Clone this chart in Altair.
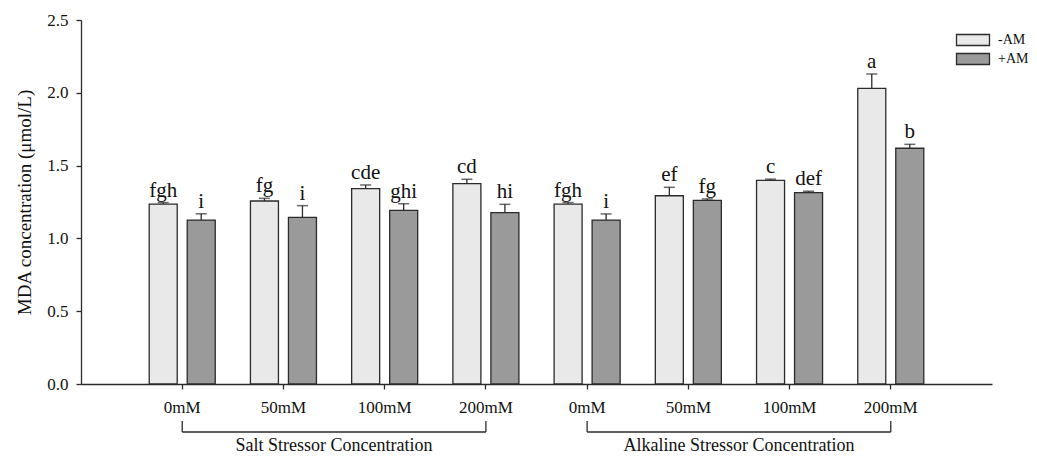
import altair as alt
import pandas as pd

# ---- data ----
groups = ["Salt 0mM", "Salt 50mM", "Salt 100mM", "Salt 200mM",
          "Alkaline 0mM", "Alkaline 50mM", "Alkaline 100mM", "Alkaline 200mM"]
treatments = ["-AM", "+AM"]
minus_am = [1.236, 1.257, 1.342, 1.376, 1.236, 1.293, 1.399, 2.031]
minus_err = [0.010, 0.018, 0.025, 0.030, 0.010, 0.058, 0.008, 0.098]
minus_letters = ["fgh", "fg", "cde", "cd", "fgh", "ef", "c", "a"]
plus_am = [1.126, 1.145, 1.193, 1.177, 1.126, 1.261, 1.314, 1.619]
plus_err = [0.043, 0.080, 0.045, 0.057, 0.042, 0.010, 0.010, 0.027]
plus_letters = ["i", "i", "ghi", "hi", "i", "fg", "def", "b"]
y_ticks = [0.0, 0.5, 1.0, 1.5, 2.0, 2.5]

stressor_titles = ["Salt Stressor Concentration", "Alkaline Stressor Concentration"]
bracket_start = ["Salt 0mM", "Alkaline 0mM"]
bracket_end = ["Salt 200mM", "Alkaline 200mM"]
bracket_mid = ["Salt 50mM", "Alkaline 50mM"]

FONT = "Liberation Serif"
INK = "#2b2b2b"

rows = []
for i, g in enumerate(groups):
    rows.append({"group": g, "treatment": "-AM", "mean": minus_am[i],
                 "err": minus_err[i], "letter": minus_letters[i]})
    rows.append({"group": g, "treatment": "+AM", "mean": plus_am[i],
                 "err": plus_err[i], "letter": plus_letters[i]})
df = pd.DataFrame(rows)
df["upper"] = df["mean"] + df["err"]

x_scale = alt.Scale(domain=groups, paddingInner=0, paddingOuter=0.5)
off_scale = alt.Scale(domain=treatments, paddingInner=0.263, paddingOuter=0.463)
y_scale = alt.Scale(domain=[0, 2.5], nice=False)

x_axis = alt.Axis(title=None, labelExpr="split(datum.label, ' ')[1]",
                  labelAngle=0, labelFontSize=17, labelPadding=10,
                  domain=True, ticks=True, tickSize=5,
                  domainWidth=1.3, tickWidth=1.3)
y_axis = alt.Axis(title="MDA concentration (\u03bcmol/L)", values=y_ticks,
                  format=".1f", labelFontSize=17, titleFontSize=19,
                  titleFontWeight="normal", labelPadding=8, titlePadding=12,
                  domain=True, ticks=True, tickSize=5,
                  domainWidth=1.3, tickWidth=1.3)


def xenc(**kw):
    return alt.X("group:N", scale=x_scale, sort=groups, axis=x_axis, **kw)


def yenc(field):
    return alt.Y(field, scale=y_scale, axis=y_axis)


xoff = alt.XOffset("treatment:N", scale=off_scale, sort=treatments)

base = alt.Chart(df)

bars = base.mark_bar(stroke=INK, strokeWidth=1.3).encode(
    x=xenc(),
    xOffset=xoff,
    y=yenc("mean:Q"),
    color=alt.Color("treatment:N",
                    scale=alt.Scale(domain=treatments, range=["#e9e9e9", "#9a9a9a"]),
                    legend=alt.Legend(title=None, orient="none", legendX=896, legendY=13,
                                      symbolType="M-5,-1h6v2h-6z", symbolSize=121,
                                      symbolStrokeColor=INK, symbolStrokeWidth=1.3,
                                      symbolOpacity=1,
                                      labelFont=FONT, labelFontSize=14, labelColor="#111",
                                      labelOffset=7, rowPadding=1)),
)

err_rule = base.mark_rule(color=INK, strokeWidth=1.3).encode(
    x=xenc(), xOffset=xoff, y=yenc("mean:Q"), y2="upper:Q",
)

caps = base.mark_tick(color=INK, thickness=1.5, size=11, orient="horizontal").encode(
    x=xenc(), xOffset=xoff, y=yenc("upper:Q"),
)

letters = base.mark_text(font=FONT, fontSize=21, color="#111", baseline="bottom", dy=-2).encode(
    x=xenc(), xOffset=xoff, y=yenc("upper:Q"), text="letter:N",
)

br_df = pd.DataFrame({"group": bracket_start, "group_end": bracket_end})
legs_df = pd.DataFrame({"group": bracket_start + bracket_end})
titles_df = pd.DataFrame({"group": bracket_mid, "title": stressor_titles})

bracket_h = alt.Chart(br_df).mark_rule(color=INK, strokeWidth=1.3).encode(
    x=xenc(bandPosition=0.5),
    x2=alt.X2("group_end:N", bandPosition=0.5),
    y=alt.value(412),
)

bracket_v = alt.Chart(legs_df).mark_rule(color=INK, strokeWidth=1.3).encode(
    x=xenc(bandPosition=0.5),
    y=alt.value(401),
    y2=alt.value(412),
)

group_titles = alt.Chart(titles_df).mark_text(font=FONT, fontSize=18, color="#111",
                                              baseline="alphabetic").encode(
    x=xenc(bandPosition=1),
    y=alt.value(431),
    text="title:N",
)

chart = alt.layer(bars, err_rule, caps, letters, bracket_h, bracket_v, group_titles).properties(
    width=911, height=364,
    autosize=alt.AutoSizeParams(type="none"),
    padding={"left": 73, "top": 12, "right": 36, "bottom": 70},
    background="white",
).configure_view(stroke=None).configure_axis(
    labelFont=FONT, titleFont=FONT, domainColor=INK, tickColor=INK,
    labelColor="#111", titleColor="#111", grid=False,
)

chart.save("out.html", embed_options={"renderer": "svg", "actions": False})
